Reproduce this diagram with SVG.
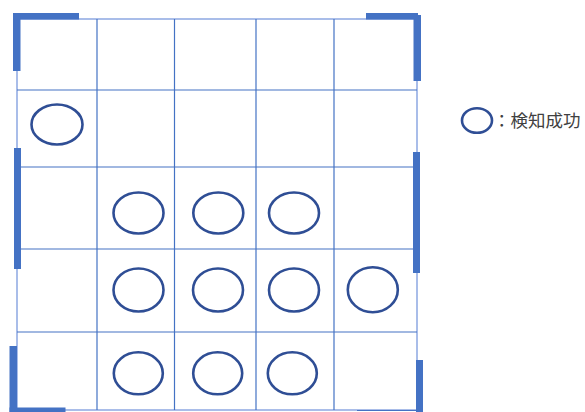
<svg xmlns="http://www.w3.org/2000/svg" width="585" height="412" viewBox="0 0 585 412">
<style>
.outer{fill:none;stroke:#a9bde9;stroke-width:2}
.grid{stroke:#4472c4;stroke-width:1.2;fill:none}
.br{fill:#4472c4}
.ok{fill:none;stroke:#2f4e95;stroke-width:2.6}
.lbl{font-family:"Liberation Sans","Noto Sans CJK JP",sans-serif;font-size:17.5px;fill:#404040}
</style>
<rect width="585" height="412" fill="#ffffff"/>
<g id="grid">
<rect class="outer" x="17" y="19" width="400" height="391"/>
<g class="grid">
<line x1="97" y1="19" x2="97" y2="410"/>
<line x1="174.5" y1="19" x2="174.5" y2="410"/>
<line x1="256" y1="19" x2="256" y2="410"/>
<line x1="334" y1="19" x2="334" y2="410"/>
<line x1="17" y1="90" x2="417" y2="90"/>
<line x1="17" y1="167" x2="417" y2="167"/>
<line x1="17" y1="249" x2="417" y2="249"/>
<line x1="17" y1="332" x2="417" y2="332"/>
<line x1="357" y1="410.5" x2="417" y2="410.5"/>
</g>
</g>
<g id="brackets">
<rect class="br" x="13" y="13" width="66" height="6.5"/>
<rect class="br" x="13" y="13" width="7.5" height="58"/>
<rect class="br" x="366" y="13" width="52" height="6.5"/>
<rect class="br" x="413.5" y="15" width="7.5" height="66"/>
<rect class="br" x="14" y="148" width="7" height="121"/>
<rect class="br" x="413" y="152" width="7" height="121"/>
<rect class="br" x="9.5" y="346" width="7.5" height="66"/>
<rect class="br" x="9.5" y="407.5" width="56" height="4.5"/>
<rect class="br" x="416" y="360" width="7" height="52"/>
</g>
<g id="detections">
<ellipse class="ok" cx="57" cy="124.5" rx="25.5" ry="20"/>
<ellipse class="ok" cx="138.5" cy="213" rx="25" ry="20.5"/>
<ellipse class="ok" cx="218.3" cy="213" rx="25" ry="20.5"/>
<ellipse class="ok" cx="294" cy="213" rx="25" ry="20.5"/>
<ellipse class="ok" cx="138.5" cy="290" rx="25" ry="21.5"/>
<ellipse class="ok" cx="218" cy="290" rx="25" ry="21.5"/>
<ellipse class="ok" cx="294" cy="290" rx="25" ry="21.5"/>
<ellipse class="ok" cx="372.8" cy="289.7" rx="25" ry="22.5"/>
<ellipse class="ok" cx="138.3" cy="373.3" rx="24.5" ry="21"/>
<ellipse class="ok" cx="217.7" cy="373.3" rx="24.5" ry="21"/>
<ellipse class="ok" cx="292.3" cy="373.3" rx="24.5" ry="21"/>
</g>
<g id="legend">
<ellipse class="ok" cx="477" cy="120.5" rx="15" ry="12.3"/>
<text class="lbl" x="493" y="126.5">：検知成功</text>
</g>
</svg>
